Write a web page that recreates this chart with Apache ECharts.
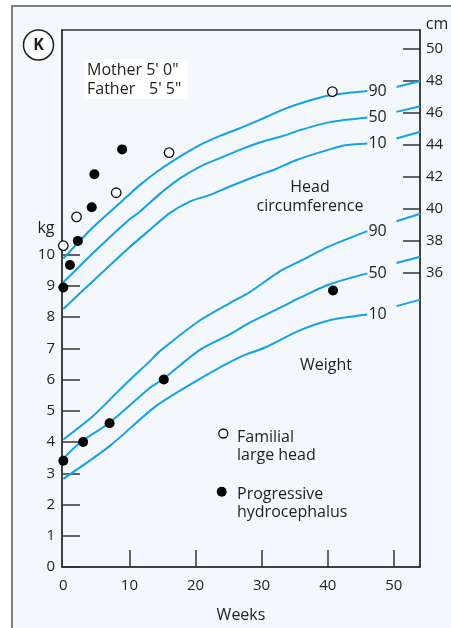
<!DOCTYPE html>
<html><head><meta charset="utf-8">
<script src="https://cdn.jsdelivr.net/npm/echarts@6/dist/echarts.min.js"></script>
<style>html,body{margin:0;padding:0;background:#fff;}#c{width:451px;height:628px;}</style>
</head><body><div id="c"></div>
<script>
// ---- data (weeks, value) ----
const weekTicks = [0, 10, 20, 30, 40, 50];
const kgTicks = [0, 1, 2, 3, 4, 5, 6, 7, 8, 9, 10];
const cmTicks = [36, 38, 40, 42, 44, 46, 48, 50];
const percentileNames = ['90', '50', '10'];

// head circumference percentiles (cm) – segment before label, segment after label
const hc90a = [[0,36.9],[4.5,38.85],[9.6,40.75],[11.6,41.49],[14.6,42.43],[17.7,43.26],[20.7,43.98],[23.7,44.54],[26.7,45.02],[29.7,45.54],[33.3,46.19],[35.8,46.56],[40.3,47.07],[46,47.34]];
const hc90b = [[50.4,47.59],[54,47.96]];
const hc50a = [[0,35.42],[4.5,37.25],[9.6,39.2],[11.6,39.83],[14.6,40.93],[17.7,41.91],[20.7,42.63],[23.7,43.16],[26.7,43.67],[29.7,44.13],[33.3,44.55],[35.8,44.9],[40.3,45.4],[46,45.69]];
const hc50b = [[50.4,46.04],[54,46.39]];
const hc10a = [[0,33.76],[4.5,35.5],[9.6,37.45],[13.1,38.69],[16.1,39.73],[19.2,40.46],[22.2,40.87],[25.2,41.39],[29.7,42.12],[31.8,42.42],[35.3,43.04],[40.3,43.7],[42.9,43.97],[46,44.07]];
const hc10b = [[50.4,44.38],[54,44.8]];

// weight percentiles (kg)
const w90a = [[0,4.08],[4.5,4.83],[9.6,5.9],[13.1,6.59],[14.6,6.91],[20.7,7.9],[25.2,8.45],[28.2,8.8],[32.8,9.47],[35.8,9.79],[40.3,10.27],[46,10.75]];
const w90b = [[50.4,11.07],[54,11.31]];
const w50a = [[0,3.47],[2.5,3.98],[7,4.62],[13.1,5.74],[15,6.0],[20.7,6.96],[25.2,7.45],[28.2,7.82],[32.8,8.3],[35.8,8.62],[40.3,9.05],[46,9.4]];
const w50b = [[50.4,9.73],[54,9.93]];
const w10a = [[0,2.82],[7,3.87],[14,5.15],[20.7,6.03],[26.7,6.72],[30.8,7.05],[35.5,7.55],[40.3,7.9],[46,8.08]];
const w10b = [[50.4,8.35],[54,8.56]];

// patient points
const familialHC = [[0,37.7],[2,39.5],[8,41.0],[16,43.5],[40.7,47.3]];
const hydroHC = [[0,35.1],[1,36.5],[2.2,38.0],[4.3,40.1],[4.7,42.15],[8.9,43.7]];
const hydroWeight = [[0,3.4],[3,4.0],[7,4.6],[15.2,6.0],[40.8,8.85]];

const FONT = '"Open Sans", "Liberation Sans", sans-serif';
const BLUE = '#14a3e0';
const INK = '#1e1e1e';

function curve(data, yIdx, label) {
  const s = {
    type: 'line', data: data, yAxisIndex: yIdx, smooth: 0.25,
    showSymbol: false, symbol: 'none', silent: true,
    lineStyle: { color: BLUE, width: 2 }, z: 3
  };
  if (label) {
    s.endLabel = { show: true, formatter: label, distance: 1, fontFamily: FONT, fontSize: 16, color: INK };
  }
  return s;
}

const axisLineStyle = { color: '#333', width: 1.5 };

const chart = echarts.init(document.getElementById('c'), null, { renderer: 'canvas' });
chart.setOption({
  animation: false,
  backgroundColor: 'transparent',
  grid: { left: 62, right: 31, top: 30, bottom: 60, show: true, borderColor: '#333', borderWidth: 1.5, backgroundColor: 'transparent' },
  xAxis: {
    type: 'value', min: -0.2, max: 53.96, splitLine: { show: false },
    axisLine: { show: true, onZero: false, lineStyle: axisLineStyle },
    axisTick: { show: true, inside: true, length: 17, customValues: weekTicks.filter(v => v > 0), lineStyle: axisLineStyle },
    axisLabel: { customValues: weekTicks, margin: 11, fontFamily: FONT, fontSize: 15, color: INK },
    name: 'Weeks', nameLocation: 'middle', nameGap: 40,
    nameTextStyle: { fontFamily: FONT, fontSize: 16, color: INK }
  },
  yAxis: [
    {
      type: 'value', min: 0, max: 17.19, position: 'left', splitLine: { show: false },
      axisLine: { show: true, onZero: false, lineStyle: axisLineStyle },
      axisTick: { show: true, inside: true, length: 18, customValues: kgTicks, lineStyle: axisLineStyle },
      axisLabel: { customValues: kgTicks, margin: 7, fontFamily: FONT, fontSize: 15, color: INK }
    },
    {
      type: 'value', min: 17.68, max: 51.14, position: 'right', splitLine: { show: false },
      axisLine: { show: true, onZero: false, lineStyle: axisLineStyle },
      axisTick: { show: true, inside: true, length: 17, customValues: cmTicks, lineStyle: axisLineStyle },
      axisLabel: { customValues: cmTicks, margin: 6, fontFamily: FONT, fontSize: 15, color: INK }
    }
  ],
  graphic: [
    { type: 'rect', z: -10, silent: true, shape: { x: 12, y: 6, width: 460, height: 640 }, style: { fill: '#f4f8fc', stroke: '#555', lineWidth: 1.5 } },
    { type: 'circle', z: 10, shape: { cx: 38.5, cy: 45, r: 15 }, style: { fill: '#fff', stroke: INK, lineWidth: 1.5 } },
    { type: 'text', z: 11, x: 38.5, y: 45, style: { text: 'K', font: 'bold 16px ' + FONT, fill: INK, align: 'center', verticalAlign: 'middle' } },
    { type: 'rect', z: 10, shape: { x: 84, y: 59, width: 104, height: 40 }, style: { fill: '#fff' } },
    { type: 'text', z: 11, x: 87, y: 70, style: { text: "Mother 5' 0\"", font: '16px ' + FONT, fill: INK, align: 'left', verticalAlign: 'middle' } },
    { type: 'text', z: 11, x: 87, y: 89, style: { text: 'Father', font: '16px ' + FONT, fill: INK, align: 'left', verticalAlign: 'middle' } },
    { type: 'text', z: 11, x: 149, y: 89, style: { text: "5' 5\"", font: '16px ' + FONT, fill: INK, align: 'left', verticalAlign: 'middle' } },
    { type: 'text', z: 11, x: 46, y: 228, style: { text: 'kg', font: '16px ' + FONT, fill: INK, align: 'center', verticalAlign: 'middle' } },
    { type: 'text', z: 11, x: 437, y: 24, style: { text: 'cm', font: '16px ' + FONT, fill: INK, align: 'center', verticalAlign: 'middle' } },
    { type: 'text', z: 11, x: 310, y: 187, style: { text: 'Head', font: '16px ' + FONT, fill: INK, align: 'center', verticalAlign: 'middle' } },
    { type: 'text', z: 11, x: 310, y: 206, style: { text: 'circumference', font: '16px ' + FONT, fill: INK, align: 'center', verticalAlign: 'middle' } },
    { type: 'text', z: 11, x: 326, y: 365, style: { text: 'Weight', font: '16px ' + FONT, fill: INK, align: 'center', verticalAlign: 'middle' } },
    { type: 'circle', z: 11, shape: { cx: 223.3, cy: 433.5, r: 4.5 }, style: { fill: '#fff', stroke: '#111', lineWidth: 1.3 } },
    { type: 'text', z: 11, x: 237, y: 437, style: { text: 'Familial', font: '16px ' + FONT, fill: INK, align: 'left', verticalAlign: 'middle' } },
    { type: 'text', z: 11, x: 237, y: 455, style: { text: 'large head', font: '16px ' + FONT, fill: INK, align: 'left', verticalAlign: 'middle' } },
    { type: 'circle', z: 11, shape: { cx: 221.7, cy: 491.7, r: 5 }, style: { fill: '#000' } },
    { type: 'text', z: 11, x: 237, y: 494.5, style: { text: 'Progressive', font: '16px ' + FONT, fill: INK, align: 'left', verticalAlign: 'middle' } },
    { type: 'text', z: 11, x: 237, y: 512.5, style: { text: 'hydrocephalus', font: '16px ' + FONT, fill: INK, align: 'left', verticalAlign: 'middle' } }
  ],
  series: [
    curve(hc90a, 1, percentileNames[0]), curve(hc90b, 1),
    curve(hc50a, 1, percentileNames[1]), curve(hc50b, 1),
    curve(hc10a, 1, percentileNames[2]), curve(hc10b, 1),
    curve(w90a, 0, percentileNames[0]), curve(w90b, 0),
    curve(w50a, 0, percentileNames[1]), curve(w50b, 0),
    curve(w10a, 0, percentileNames[2]), curve(w10b, 0),
    { type: 'scatter', name: 'Familial large head', yAxisIndex: 1, data: familialHC, symbol: 'circle', symbolSize: 9.5,
      itemStyle: { color: '#fff', borderColor: '#111', borderWidth: 1.3, opacity: 1 }, z: 5, clip: false },
    { type: 'scatter', name: 'Progressive hydrocephalus', yAxisIndex: 1, data: hydroHC, symbol: 'circle', symbolSize: 10,
      itemStyle: { color: '#000', opacity: 1 }, z: 5, clip: false },
    { type: 'scatter', name: 'Progressive hydrocephalus weight', yAxisIndex: 0, data: hydroWeight, symbol: 'circle', symbolSize: 10,
      itemStyle: { color: '#000', opacity: 1 }, z: 5, clip: false }
  ]
});
</script></body></html>
